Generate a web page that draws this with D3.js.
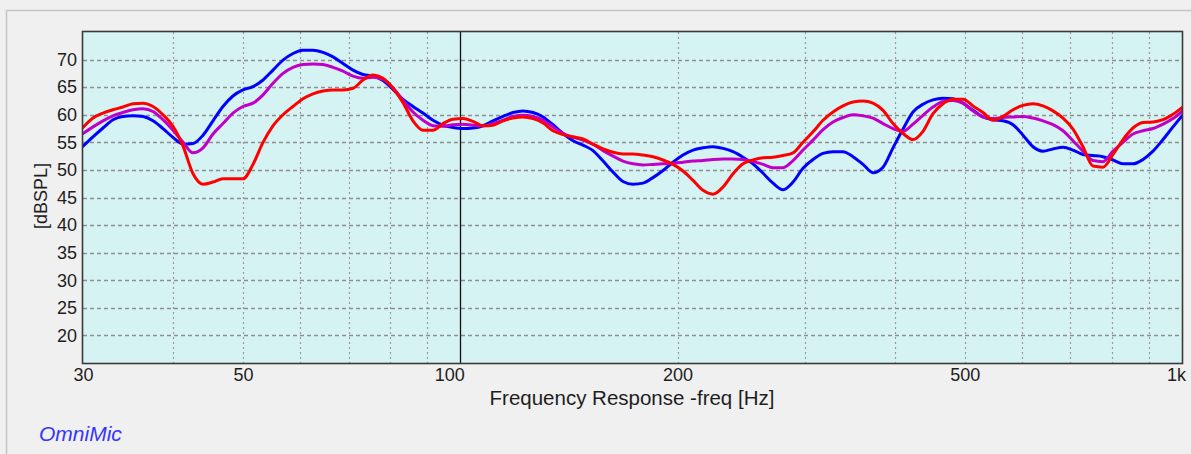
<!DOCTYPE html>
<html><head><meta charset="utf-8">
<script src="https://cdn.jsdelivr.net/npm/d3@7"></script>
<style>body{margin:0;background:#f0f0f0;overflow:hidden;} svg{display:block;}</style>
</head><body><svg id="c" width="1191" height="454"></svg>
<script>
// Frequency grid (Hz)
const freqs = [
30, 30.97, 31.98, 33.01, 34.08, 35.19, 36.33, 37.51, 38.72, 39.98,
41.28, 42.62, 44.00, 45.42, 46.89, 48.41, 49.98, 51.6, 53.28, 55.0,
56.79, 58.63, 60.53, 62.49, 64.52, 66.61, 68.77, 71.0, 73.3, 75.68,
78.13, 80.66, 83.28, 85.98, 88.77, 91.64, 94.62, 97.69, 100.85, 104.1,
107.5, 111, 114.6, 118.3, 122.1, 126.1, 130.2, 134.4, 138.8, 143.3,
147.9, 152.7, 157.7, 162.8, 168, 173.5, 179.1, 184.9, 190.9, 197.1,
203.5, 210.1, 216.9, 223.9, 231.2, 238.7, 246.4, 254.4, 262.7, 271.2,
280, 289.1, 298.4, 308.1, 318.1, 328.4, 339, 350, 361.4, 373.1,
385.2, 397.7, 410.6, 423.9, 437.6, 451.8, 466.5, 481.6, 497.2, 513.3,
530, 547.2, 564.9, 583.2, 602.1, 621.6, 641.8, 662.6, 684.1, 706.2,
729.1, 752.8, 777.2, 802.4, 828.4, 855.2, 883, 911.6, 941.2, 971.6, 1000
];
// dBSPL per series
const blueDb = [
54.3, 56.0, 57.6, 59.1, 59.7, 59.8, 59.7, 58.9, 57.5, 55.9,
54.7, 54.8, 56.3, 58.9, 61.5, 63.4, 64.5, 65.1, 66.3, 68.1,
69.9, 71.1, 71.7, 71.7, 71.3, 70.5, 69.3, 68.1, 67.3, 67.0,
66.2, 64.6, 62.8, 61.5, 60.3, 59.0, 58.1, 57.7, 57.5, 57.6,
58.0, 58.9, 59.7, 60.4, 60.7, 60.4, 59.6, 58.2, 56.6, 55.3,
54.5, 53.5, 51.6, 49.6, 47.9, 47.4, 47.6, 48.6, 49.9, 51.4,
52.7, 53.6, 54.0, 54.2, 53.9, 53.3, 52.3, 51.1, 49.4, 47.6,
46.4, 47.8, 50.3, 51.9, 53.0, 53.3, 53.3, 52.4, 51.0, 49.5,
50.5, 54.0, 57.4, 60.5, 61.9, 62.7, 63.0, 62.9, 62.1, 60.8,
59.6, 59.1, 58.9, 58.2, 56.3, 54.2, 53.4, 53.8, 54.1, 53.6,
52.8, 52.6, 52.4, 51.8, 51.1, 51.1, 51.9, 53.4, 55.5, 57.8, 59.8
];
const magentaDb = [
56.6, 57.8, 58.9, 59.8, 60.4, 60.9, 61.1, 60.6, 59.1, 57.2,
55.0, 53.1, 54.0, 56.5, 58.4, 60.3, 61.5, 62.1, 63.6, 65.7,
67.5, 68.6, 69.1, 69.2, 69.1, 68.6, 67.9, 67.0, 66.6, 66.8,
66.4, 64.9, 62.6, 60.5, 59.0, 58.0, 57.9, 58.2, 58.3, 58.1,
58.0, 58.4, 59.0, 59.7, 59.9, 59.7, 59.0, 57.8, 56.6, 55.9,
55.4, 54.6, 53.5, 52.5, 51.6, 51.1, 50.9, 51.0, 51.1, 51.2,
51.4, 51.6, 51.7, 51.9, 52.0, 52.0, 51.9, 51.5, 51.0, 50.4,
50.4, 51.7, 53.6, 55.4, 57.3, 58.7, 59.5, 60.0, 59.8, 59.4,
58.4, 57.5, 57.0, 58.3, 59.9, 61.4, 62.4, 62.6, 62.1, 60.7,
59.6, 59.3, 59.5, 59.6, 59.7, 59.4, 58.9, 58.2, 57.1, 55.3,
53.4, 51.7, 51.5, 53.4, 55.0, 56.5, 57.1, 57.5, 58.3, 59.3, 60.6
];
const redDb = [
57.7, 59.4, 60.3, 60.9, 61.4, 62.0, 62.1, 61.5, 60.0, 57.9,
54.3, 49.3, 47.4, 47.8, 48.4, 48.4, 48.4, 51.0, 55.0, 58.0,
60.0, 61.5, 62.9, 63.8, 64.3, 64.5, 64.5, 64.8, 66.3, 67.2,
66.6, 64.8, 62.2, 58.9, 57.2, 57.2, 58.4, 59.2, 59.3, 58.8,
58.0, 58.1, 58.9, 59.4, 59.6, 59.3, 58.5, 57.1, 56.4, 56.0,
55.6, 54.7, 53.8, 53.2, 52.9, 52.9, 52.7, 52.4, 51.8, 51.0,
49.8, 48.1, 46.3, 45.6, 46.9, 49.3, 51.1, 51.8, 52.2, 52.3,
52.6, 53.1, 55.0, 56.9, 59.0, 60.5, 61.6, 62.3, 62.5, 62.1,
60.8, 58.4, 56.6, 55.5, 57.0, 60.2, 62.0, 62.8, 62.8, 61.6,
60.4, 59.0, 59.7, 60.9, 61.7, 62.0, 61.6, 60.7, 59.4, 57.4,
54.2, 50.7, 50.5, 52.8, 55.5, 57.6, 58.6, 58.7, 59.1, 60.1, 61.3
];
const seriesNames = ["blue", "magenta", "red"];
const seriesColors = ["#0000ff", "#c000c8", "#ff0000"];
const yTicks = [20, 25, 30, 35, 40, 45, 50, 55, 60, 65, 70];
const xTickValues = [30, 50, 100, 200, 500, 1000];
const xTickLabels = ["30", "50", "100", "200", "500", "1k"];
const xGrid = [40, 50, 60, 70, 80, 90, 200, 300, 400, 500, 600, 700, 800, 900];
const markerFreq = 100;

const svg = d3.select("#c");
const L = 83, R = 1182, T = 32, B = 363;
const x = d3.scaleLog().domain([30, 1000]).range([L, R]);
const y = d3.scaleLinear().domain([15, 75]).range([B, T]);
const FONT = "'Liberation Sans', Arial, sans-serif";

// outer panel border
svg.append("rect").attr("x", 6.5).attr("y", 10.5).attr("width", 1300).attr("height", 600)
  .attr("fill", "#f0f0f0").attr("stroke", "#c4c4c4").attr("stroke-width", 1.5);

// plot background
svg.append("rect").attr("x", L).attr("y", T).attr("width", R - L).attr("height", B - T)
  .attr("fill", "#d6f3f3");

// horizontal grid
svg.append("g").selectAll("line").data(yTicks).join("line")
  .attr("x1", L).attr("x2", R)
  .attr("y1", d => Math.round(y(d)) + 0.5).attr("y2", d => Math.round(y(d)) + 0.5)
  .attr("stroke", "#8f8f8f").attr("stroke-width", 1.3).attr("stroke-dasharray", "4,3");

// vertical grid
svg.append("g").selectAll("line").data(xGrid).join("line")
  .attr("x1", d => Math.round(x(d)) + 0.5).attr("x2", d => Math.round(x(d)) + 0.5)
  .attr("y1", T).attr("y2", B)
  .attr("stroke", "#9a9a9a").attr("stroke-width", 1.2).attr("stroke-dasharray", "2,3");

// marker line at 100 Hz
svg.append("line")
  .attr("x1", Math.round(x(markerFreq)) + 0.5).attr("x2", Math.round(x(markerFreq)) + 0.5)
  .attr("y1", T).attr("y2", B).attr("stroke", "#111").attr("stroke-width", 1.3);

// clip
svg.append("clipPath").attr("id", "clip").append("rect")
  .attr("x", L).attr("y", T).attr("width", R - L).attr("height", B - T);

const seriesData = [blueDb, magentaDb, redDb];
const line = d3.line().x(d => x(d[0])).y(d => y(d[1])).curve(d3.curveMonotoneX);
const gl = svg.append("g").attr("clip-path", "url(#clip)");
seriesData.forEach((vals, i) => {
  gl.append("path")
    .datum(freqs.map((f, j) => [f, vals[j]]))
    .attr("fill", "none").attr("stroke", seriesColors[i]).attr("stroke-width", 3)
    .attr("stroke-linejoin", "round").attr("stroke-linecap", "round")
    .attr("class", "series-" + seriesNames[i])
    .attr("d", line);
});

// plot border
svg.append("rect").attr("x", L - 0.5).attr("y", T - 0.5).attr("width", R - L + 1).attr("height", B - T + 1)
  .attr("fill", "none").attr("stroke", "#3a3a3a").attr("stroke-width", 1.6);

// y axis
const ya = svg.append("g").attr("transform", `translate(${L},0)`)
  .call(d3.axisLeft(y).tickValues(yTicks).tickSize(0).tickPadding(6).tickFormat(d3.format("d")));
ya.select(".domain").remove();
ya.selectAll("text").attr("font-family", FONT).attr("font-size", 18).attr("fill", "#1e1e1e");

// x axis
const xa = svg.append("g").attr("transform", `translate(0,${B})`)
  .call(d3.axisBottom(x).tickValues(xTickValues).tickSize(0).tickPadding(5)
    .tickFormat((d, i) => xTickLabels[i]));
xa.select(".domain").remove();
xa.selectAll("text").attr("font-family", FONT).attr("font-size", 18).attr("fill", "#1e1e1e")
  .attr("dx", d => d === 100 ? -11 : (d === 1000 ? -6 : 0));

// axis titles
svg.append("text").attr("x", 632).attr("y", 405).attr("text-anchor", "middle")
  .attr("font-family", FONT).attr("font-size", 20.5).attr("fill", "#1e1e1e")
  .text("Frequency Response -freq [Hz]");
svg.append("text").attr("transform", "translate(47,196) rotate(-90)").attr("text-anchor", "middle")
  .attr("font-family", FONT).attr("font-size", 18).attr("fill", "#1e1e1e")
  .text("[dBSPL]");

// brand
svg.append("text").attr("x", 39).attr("y", 440.5)
  .attr("font-family", FONT).attr("font-size", 21).attr("font-style", "italic").attr("fill", "#3535ff")
  .text("OmniMic");
</script></body></html>
